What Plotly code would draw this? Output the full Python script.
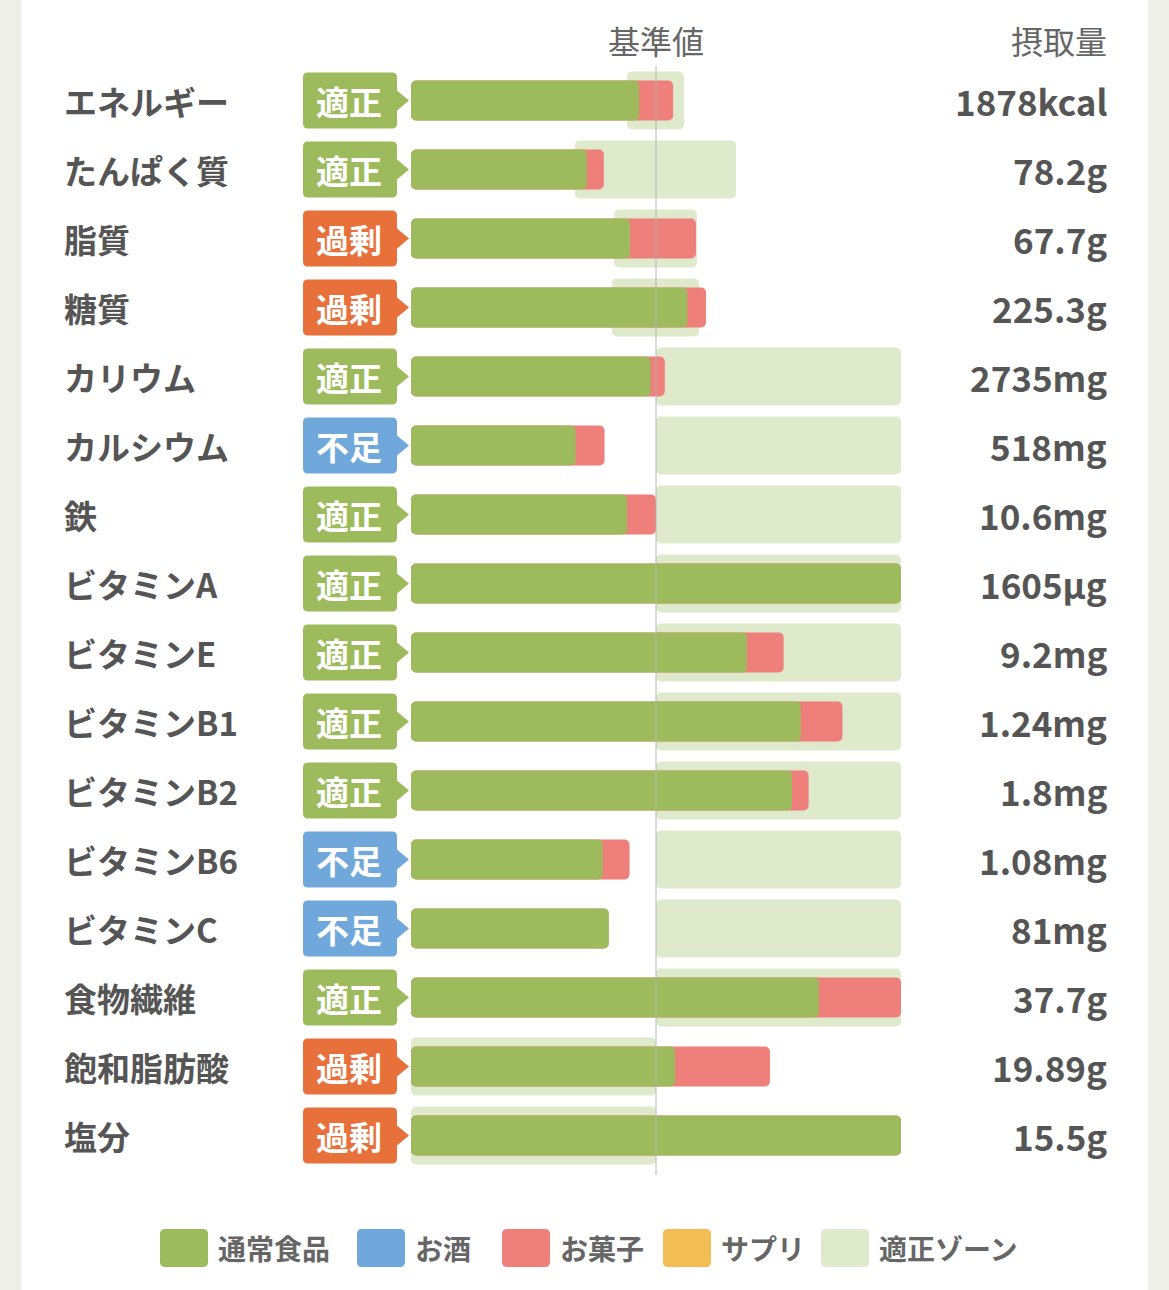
import plotly.graph_objects as go

# 栄養素ごとの摂取状況（基準値=100%として表示、表示上限200%）
nutrients = ["エネルギー", "たんぱく質", "脂質", "糖質", "カリウム", "カルシウム", "鉄",
             "ビタミンA", "ビタミンE", "ビタミンB1", "ビタミンB2", "ビタミンB6",
             "ビタミンC", "食物繊維", "飽和脂肪酸", "塩分"]
status = ["適正", "適正", "過剰", "過剰", "適正", "不足", "適正", "適正",
          "適正", "適正", "適正", "不足", "不足", "適正", "過剰", "過剰"]
intake_labels = ["1878kcal", "78.2g", "67.7g", "225.3g", "2735mg", "518mg", "10.6mg",
                 "1605μg", "9.2mg", "1.24mg", "1.8mg", "1.08mg", "81mg", "37.7g",
                 "19.89g", "15.5g"]
food_pct = [93.1, 71.8, 89.4, 112.8, 97.8, 67.2, 88.2, 200, 137.1, 159.1,
            155.5, 78.2, 80.7, 166.5, 107.8, 200]
snack_pct = [13.9, 6.9, 26.9, 7.6, 5.8, 11.8, 11.8, 0, 15.0, 17.0,
             6.8, 11.0, 0, 33.5, 38.7, 0]
zone_lo = [88.2, 66.9, 82.9, 82.0, 100, 100, 100, 100, 100, 100, 100, 100, 100, 100, 0, 0]
zone_hi = [111.4, 132.7, 116.7, 117.6, 200, 200, 200, 200, 200, 200, 200, 200, 200, 200, 100, 100]

legend_names = ["通常食品", "お酒", "お菓子", "サプリ", "適正ゾーン"]

C_FOOD = "#9dbb5d"
C_SNACK = "#ee7f7a"
C_ZONE = "#dfe9cc"
legend_colors = [C_FOOD, "#70a8dc", C_SNACK, "#f2bd55", C_ZONE]
status_colors = {"適正": "#9dbb5d", "過剰": "#e8703a", "不足": "#70a8dc"}

FONT = "Noto Sans CJK JP"
W, H = 1169, 1290
PL, PR, PT, PB = 411, 901, 66, 1170   # plot area in pixels


def px_x(p):
    return (p - PL) / (PR - PL)


def px_y(p):
    return (PB - p) / (PB - PT)


rows = list(range(len(nutrients)))
totals = [f + s for f, s in zip(food_pct, snack_pct)]

fig = go.Figure()
fig.add_trace(go.Bar(
    y=rows, x=[h - l for l, h in zip(zone_lo, zone_hi)], base=zone_lo,
    orientation="h", width=0.84, name="適正ゾーン",
    marker=dict(color=C_ZONE, cornerradius=5, line=dict(width=0)),
))
fig.add_trace(go.Bar(
    y=rows, x=totals, base=[0] * len(rows),
    orientation="h", width=0.58, name="お菓子",
    marker=dict(color=C_SNACK, cornerradius=5, line=dict(width=0)),
))
fig.add_trace(go.Bar(
    y=rows, x=food_pct, base=[0] * len(rows),
    orientation="h", width=0.58, name="通常食品",
    marker=dict(color=C_FOOD, cornerradius=5, line=dict(width=0)),
))

shapes = []
annotations = []

# side strips of the page
for a, b in [(0, 21), (1148, 1169)]:
    shapes.append(dict(type="rect", xref="paper", yref="paper",
                       x0=px_x(a), x1=px_x(b), y0=px_y(H), y1=px_y(0),
                       fillcolor="#efefea", line=dict(width=0), layer="below"))

# 基準値 line
shapes.append(dict(type="line", xref="x", yref="paper", x0=100, x1=100,
                   y0=px_y(1175), y1=px_y(66),
                   line=dict(color="#b4b4b4", width=1), layer="above"))

badge_path = ("M 5,-28 L 89,-28 Q 94,-28 94,-23 L 94,-10 L 106,0 L 94,10 "
              "L 94,23 Q 94,28 89,28 L 5,28 Q 0,28 0,23 L 0,-23 Q 0,-28 5,-28 Z")

for i, name in enumerate(nutrients):
    annotations.append(dict(x=px_x(62), y=i, xref="paper", yref="y",
                            text=name, showarrow=False, xanchor="left", yanchor="middle",
                            font=dict(family=FONT, size=33, color="#555555", weight="bold")))
    shapes.append(dict(type="path", xref="paper", yref="y",
                       xsizemode="pixel", ysizemode="pixel",
                       xanchor=px_x(303), yanchor=i, path=badge_path,
                       fillcolor=status_colors[status[i]], line=dict(width=0)))
    annotations.append(dict(x=px_x(349), y=i, xref="paper", yref="y",
                            text=status[i], showarrow=False, xanchor="center", yanchor="middle",
                            font=dict(family=FONT, size=33, color="white", weight="bold")))
    annotations.append(dict(x=px_x(1109), y=i, xref="paper", yref="y",
                            text=intake_labels[i], showarrow=False, xanchor="right", yanchor="middle",
                            font=dict(family=FONT, size=35, color="#555555", weight="bold")))

# column headers
annotations.append(dict(x=100, y=px_y(40), xref="x", yref="paper", text="基準値",
                        showarrow=False, xanchor="center", yanchor="middle",
                        font=dict(family=FONT, size=32, color="#666666")))
annotations.append(dict(x=px_x(1109), y=px_y(40), xref="paper", yref="paper", text="摂取量",
                        showarrow=False, xanchor="right", yanchor="middle",
                        font=dict(family=FONT, size=32, color="#666666")))

# custom legend
leg_sq_x = [160, 357, 502, 663, 821]
sq_path = ("M 5,-19 L 43,-19 Q 48,-19 48,-14 L 48,14 Q 48,19 43,19 "
           "L 5,19 Q 0,19 0,14 L 0,-14 Q 0,-19 5,-19 Z")
for nm, col, sx in zip(legend_names, legend_colors, leg_sq_x):
    shapes.append(dict(type="path", xref="paper", yref="paper",
                       xsizemode="pixel", ysizemode="pixel",
                       xanchor=px_x(sx), yanchor=px_y(1248), path=sq_path,
                       fillcolor=col, line=dict(width=0)))
    annotations.append(dict(x=px_x(sx + 56), y=px_y(1248), xref="paper", yref="paper",
                            text=nm, showarrow=False, xanchor="left", yanchor="middle",
                            font=dict(family=FONT, size=28, color="#666666", weight="bold")))

fig.update_layout(
    width=W, height=H,
    margin=dict(l=PL, r=W - PR, t=PT, b=H - PB, pad=0),
    barmode="overlay",
    showlegend=False,
    plot_bgcolor="white",
    paper_bgcolor="white",
    shapes=shapes,
    annotations=annotations,
    xaxis=dict(range=[0, 200], showgrid=False, zeroline=False, showticklabels=False,
               showline=False, fixedrange=True),
    yaxis=dict(range=[15.5, -0.5], showgrid=False, zeroline=False, showticklabels=False,
               showline=False, fixedrange=True),
    font=dict(family=FONT),
)

# drop the default 8px page margin so the figure sits at the top-left corner
fig.write_html("out.html", config={"displayModeBar": False},
               post_script="document.body.style.margin='0';")
